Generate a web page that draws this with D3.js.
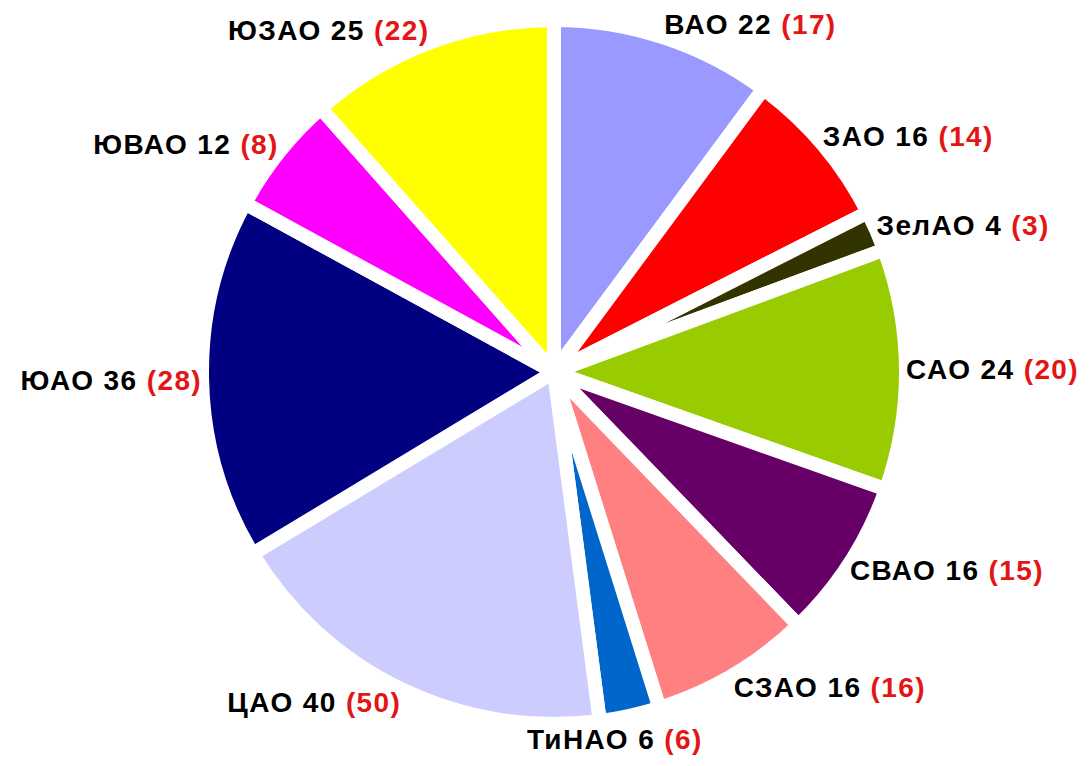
<!DOCTYPE html>
<html>
<head>
<meta charset="utf-8">
<script src="https://cdn.jsdelivr.net/npm/d3@7"></script>
<style>
  body { margin: 0; background: #fff; }
  text { font-family: "Liberation Sans", Arial, sans-serif; font-weight: bold; }
</style>
</head>
<body>
<svg id="chart"></svg>
<script>
// districts in drawing order, clockwise from 12 o'clock
const districts = ["ВАО", "ЗАО", "ЗелАО", "САО", "СВАО", "СЗАО", "ТиНАО", "ЦАО", "ЮАО", "ЮВАО", "ЮЗАО"];
const counts = [22, 16, 4, 24, 16, 16, 6, 40, 36, 12, 25];
const prevCounts = [17, 14, 3, 20, 15, 16, 6, 50, 28, 8, 22];
const colors = ["#9999ff", "#ff0000", "#333300", "#99cc00", "#660066", "#ff8080",
                "#0066cc", "#ccccff", "#000080", "#ff00ff", "#ffff00"];

const width = 1091, height = 766;
const cx = 554, cy = 372;
const gap = 14;
const radius = 345 + gap / 2;

const svg = d3.select("#chart").attr("width", width).attr("height", height);
const g = svg.append("g").attr("transform", `translate(${cx}, ${cy})`);

const data = districts.map((d, i) => ({ name: d, count: counts[i], prev: prevCounts[i], color: colors[i] }));

const pie = d3.pie().sort(null).value(d => d.count);
const arc = d3.arc().innerRadius(0).outerRadius(radius);
const arcs = pie(data);

g.selectAll("path")
    .data(arcs)
    .join("path")
    .attr("d", arc)
    .attr("fill", d => d.data.color)
    .attr("stroke", "#fff")
    .attr("stroke-width", gap)
    .attr("stroke-linejoin", "round");

// labels: nearest corner of the text box sits just outside the rim
const labelR = 352;
const fontSize = 28;
const labels = g.selectAll("text")
    .data(arcs)
    .join("text")
    .attr("font-size", fontSize)
    .attr("letter-spacing", 1.4)
    .attr("dominant-baseline", "central")
    .each(function (d) {
        const a = (d.startAngle + d.endAngle) / 2;
        const s = Math.sin(a), c = Math.cos(a);
        let x = labelR * s;
        let y = -labelR * c - (fontSize / 2) * c;
        let anchor = s >= 0 ? "start" : "end";
        if (Math.abs(s) < 0.25 && c < 0) { anchor = "middle"; x -= 15; y += 10; }
        d3.select(this).attr("x", x).attr("y", y).attr("text-anchor", anchor);
    });

labels.append("tspan").attr("fill", "#000").text(d => `${d.data.name} ${d.data.count} `);
labels.append("tspan").attr("fill", "#e31515").text(d => `(${d.data.prev})`);
</script>
</body>
</html>
